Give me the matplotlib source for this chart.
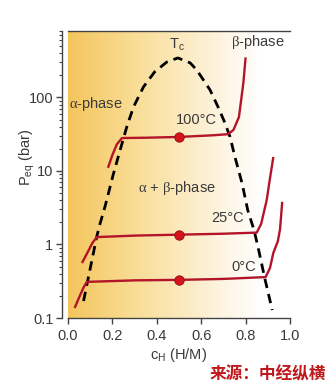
import numpy as np
import matplotlib
matplotlib.use("Agg")
import matplotlib.pyplot as plt
from matplotlib.colors import LinearSegmentedColormap
from matplotlib.ticker import LogLocator, NullFormatter, FixedLocator

plt.rcParams['font.family'] = ['Liberation Sans', 'DejaVu Sans']
plt.rcParams['mathtext.fontset'] = 'custom'
plt.rcParams['mathtext.rm'] = 'Liberation Serif'
plt.rcParams['mathtext.sf'] = 'Liberation Sans'

# miscibility gap (dashed dome)
dome_x = [0.07, 0.10, 0.13, 0.144, 0.167, 0.204, 0.235, 0.265, 0.295, 0.34, 0.39,
          0.445, 0.495, 0.55, 0.58, 0.64, 0.676, 0.707, 0.73, 0.752, 0.784,
          0.81, 0.838, 0.856, 0.888, 0.92]
dome_y = [0.17, 0.47, 1.3, 1.9, 3.3, 9.0, 19.3, 40, 74, 139, 222,
          303, 344, 295, 236, 126, 74, 45, 29, 15.5, 6.8,
          2.9, 1.57, 0.92, 0.33, 0.128]

# pressure-composition isotherms
iso_100_x = [0.18, 0.20, 0.22, 0.243, 0.35, 0.5, 0.65, 0.72, 0.745, 0.77, 0.79, 0.80]
iso_100_y = [11, 16.5, 23, 28, 28.3, 29, 30.5, 31.6, 36, 54, 158, 350]

iso_25_x = [0.063, 0.09, 0.11, 0.13, 0.3, 0.5, 0.7, 0.85, 0.87, 0.895, 0.91, 0.925]
iso_25_y = [0.56, 0.8, 1.05, 1.26, 1.32, 1.36, 1.4, 1.45, 1.9, 4.0, 8.0, 15.5]

iso_0_x = [0.03, 0.05, 0.07, 0.085, 0.3, 0.5, 0.7, 0.89, 0.91, 0.925, 0.945, 0.955, 0.965]
iso_0_y = [0.137, 0.19, 0.26, 0.31, 0.325, 0.33, 0.34, 0.36, 0.48, 0.77, 1.1, 1.6, 3.8]

plateau_x = 0.5
plateau_y = [29, 1.36, 0.33]

iso_labels = ['100°C', '25°C', '0°C']
iso_label_pos = [(0.58, 49), (0.72, 2.3), (0.79, 0.49)]

red = '#b3142a'
txt = '#3a3a3a'

fig = plt.figure(figsize=(3.33, 3.86), dpi=100)
ax = fig.add_axes([68 / 333, 1 - 318 / 386, 222 / 333, 287 / 386])
ax.set_yscale('log')
ax.set_xlim(0, 1.0)
ax.set_ylim(0.1, 800)

# warm-to-white background gradient
bg = LinearSegmentedColormap.from_list(
    'bg', [(0, '#f4c55c'), (0.3, '#f9dd96'), (0.55, '#fcecc6'),
           (0.75, '#fef8ec'), (0.88, '#ffffff'), (1, '#ffffff')])
grad = np.linspace(0, 1, 256).reshape(1, -1)
ax.imshow(grad, cmap=bg, aspect='auto', extent=[0, 1, 0, 1],
          transform=ax.transAxes, zorder=0)

ax.plot(dome_x, dome_y, color='black', lw=2.0, ls=(0, (3.4, 2.2)), zorder=2)
for xs, ys in [(iso_100_x, iso_100_y), (iso_25_x, iso_25_y), (iso_0_x, iso_0_y)]:
    ax.plot(xs, ys, color=red, lw=1.7, solid_capstyle='butt', zorder=3)
ax.plot([plateau_x] * 3, plateau_y, 'o', ms=6.8, color='#d4141c',
        mec='#8c0c12', mew=0.6, zorder=4)

fs = 10.5
ax.text(0.005, 81, r'$\mathrm{\alpha}$-phase', fontsize=fs, color=txt, va='center')
ax.text(0.49, 520, r'T$_\mathsf{c}$', fontsize=fs, color=txt, ha='center', va='center')
ax.text(0.735, 560, r'$\mathrm{\beta}$-phase', fontsize=fs, color=txt, va='center')
ax.text(0.49, 5.9, r'$\mathrm{\alpha}$ + $\mathrm{\beta}$-phase', fontsize=fs,
        color=txt, ha='center', va='center')
for lab, (lx, ly) in zip(iso_labels, iso_label_pos):
    ax.text(lx, ly, lab, fontsize=fs, color=txt, ha='center', va='center')

ax.spines['right'].set_visible(False)
ax.spines['left'].set_position(('outward', 4.5))
for s in ['left', 'bottom', 'top']:
    ax.spines[s].set_color('#444444')
    ax.spines[s].set_linewidth(1.0)

ax.xaxis.set_major_locator(FixedLocator([0, 0.2, 0.4, 0.6, 0.8, 1.0]))
ax.set_xticklabels(['0.0', '0.2', '0.4', '0.6', '0.8', '1.0'])
ax.yaxis.set_major_locator(FixedLocator([0.1, 1, 10, 100]))
ax.set_yticklabels(['0.1', '1', '10', '100'])
ax.yaxis.set_minor_locator(LogLocator(base=10, subs=np.arange(2, 10)))
ax.yaxis.set_minor_formatter(NullFormatter())
ax.tick_params(axis='both', which='major', direction='out', length=4, width=1,
               color='#444444', labelsize=10.5, labelcolor=txt, pad=2)
ax.tick_params(axis='x', which='major', pad=4)
ax.tick_params(axis='y', which='minor', direction='out', length=2.5, width=0.8,
               color='#444444')
ax.tick_params(axis='x', which='minor', bottom=False)

ax.set_xlabel(r'c$_\mathsf{H}$ (H/M)', fontsize=10.5, color=txt, labelpad=2)
ax.set_ylabel(r'P$_\mathsf{eq}$ (bar)', fontsize=10.5, color=txt)
ax.yaxis.set_label_coords(-0.14, 0.56)

fig.text(0.98, 1 - 374 / 386, '来源：中经纵横', fontsize=12, color='#c0171c',
         fontweight='bold', family=['Noto Sans CJK SC', 'DejaVu Sans'],
         ha='right', va='center')

fig.savefig('out.png', dpi=100)
